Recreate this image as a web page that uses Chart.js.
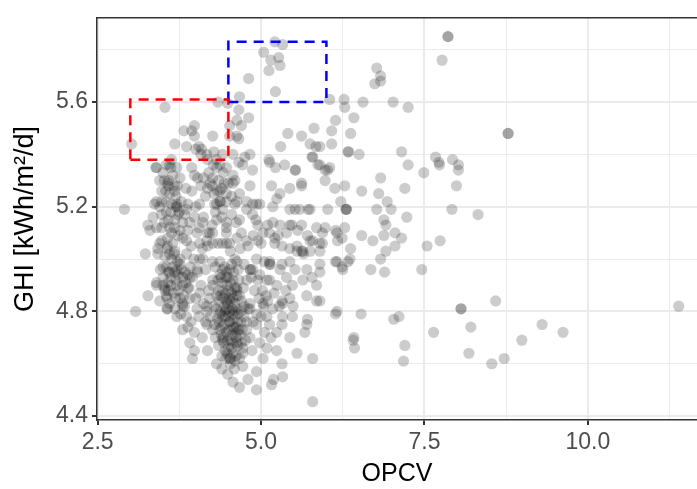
<!DOCTYPE html>
<html><head><meta charset="utf-8">
<script src="https://cdn.jsdelivr.net/npm/chart.js@4/dist/chart.umd.min.js"></script>
<style>html,body{margin:0;padding:0;background:#fff}#wrap{width:697px;height:489px}</style>
</head><body><div id="wrap"><canvas id="c" width="697" height="489"></canvas></div>
<script>
const opcv = [
7.86,7.86,7.77,8.78,8.78,11.39,8.06,8.06,8.59,7.64,8.21,8.18,8.53,8.72,8.99,9.30,9.62,5.79,7.20,7.18,7.03,7.11,6.42,6.41,6.43,6.14,6.53,5.90,5.90,6.14,6.24,6.36,6.68,6.89,6.83,6.91,7.05,6.88,6.71,6.54,6.37,6.17,5.94,6.14,6.28,6.88,6.91,7.05,7.15,7.23,7.46,7.54,7.74,7.92,8.32,6.30,6.30,6.31,6.77,6.99,6.93,6.80,6.54,6.28,6.22,6.83,7.20,7.99,8.02,8.02,7.93,7.72,7.73,7.67,7.49,7.25,7.15,6.50,6.33,6.34,6.08,5.90,6.37,6.08,6.14,6.42,6.05,6.27,6.28,6.56,7.02,7.25,6.77,6.83,6.83,6.74,5.98,6.05,5.98,
5.21,5.33,5.04,5.27,5.15,5.29,5.12,4.81,5.22,4.67,4.34,4.49,
3.53,3.02,4.66,4.81,4.63,4.70,4.52,4.63,4.52,4.66,4.26,3.98,3.94,3.82,3.98,3.68,3.86,4.00,4.05,4.09,4.28,4.08,4.17,4.32,4.57,4.75,4.83,4.66,4.47,4.32,3.39,3.60,3.71,3.94,4.12,3.59,3.76,3.98,4.57,4.87,5.12,5.13,5.30,5.41,5.62,5.81,5.75,5.84,5.79,5.87,5.22,5.53,5.62,3.85,3.94,4.18,3.54,3.68,3.40,3.71,3.88,2.91,4.37,4.37,3.57,3.40,4.03,3.71,3.70,
3.48,3.63,3.48,3.57,3.42,3.60,3.76,3.68,3.88,3.50,3.40,3.57,3.53,3.27,3.57,3.80,3.80,4.02,4.11,4.18,4.34,4.26,4.47,4.52,4.06,4.26,4.41,4.26,4.47,4.63,4.41,4.52,4.83,5.03,5.04,4.87,5.13,5.14,5.13,5.29,5.44,5.55,5.64,5.65,5.32,5.21,5.03,4.95,5.18,5.44,5.56,5.75,5.90,5.94,6.02,5.75,5.59,5.44,5.24,5.29,5.16,5.44,5.62,4.87,4.98,4.78,4.63,4.47,4.32,4.67,4.83,4.57,4.40,4.25,4.26,4.37,4.72,5.36,5.52,5.78,5.90,6.02,6.13,
4.41,4.60,4.78,4.93,5.18,5.52,5.72,4.47,4.67,4.87,5.10,5.29,5.47,5.62,5.85,5.98,6.16,6.24,5.39,5.26,5.13,4.95,4.78,4.63,4.47,5.71,5.79,5.90,5.55,5.44,5.62,5.75,5.21,5.13,5.32,5.52,5.70,5.90,6.16,6.33,6.25,4.93,4.83,4.84,4.98,4.78,5.09,5.24,5.39,5.48,5.64,5.78,5.85,5.70,5.85,5.44,5.32,5.18,5.49,4.83,6.16,4.63,4.52,4.57,4.47,4.63,4.93,5.09,5.33,5.71,
3.56,3.80,4.17,4.47,5.33,5.48,5.70,5.67,5.44,5.24,5.13,5.32,5.55,5.79,3.91,3.98,3.95,4.18,3.80,3.88,4.17,4.26,4.32,4.40,4.52,4.53,4.49,4.57,4.67,4.72,4.80,4.93,4.93,5.16,5.19,5.33,5.32,5.03,5.24,5.09,4.86,4.57,4.41,4.37,4.63,4.83,4.93,4.78,4.52,4.37,3.08,
3.37,3.48,3.27,3.30,3.76,3.86,3.45,3.56,3.68,3.23,3.42,3.86,4.06,4.17,4.21,4.32,3.91,3.46,3.60,3.71,3.80,3.91,4.02,3.40,3.53,3.71,3.88,3.56,3.76,3.91,4.06,4.21,3.83,3.71,4.02,4.17,4.32,4.41,4.26,4.37,4.37,4.11,4.41,4.26,4.47,4.29,4.06,3.86,
4.35,4.42,4.48,4.55,4.60,4.38,4.45,4.52,4.58,4.65,4.70,4.40,4.47,4.55,4.62,4.68,4.43,4.50,4.57,4.64,4.72,4.46,4.53,4.60,4.36,4.33,4.50,4.58,4.66,4.73,4.44,4.62,4.49,4.56,4.41,4.69,4.74,4.78,4.80,4.76,4.54,4.39,4.30,4.28,4.34,4.63,4.52,4.45,4.59,4.67,
3.55,3.62,3.70,3.78,3.85,3.58,3.66,3.74,3.82,3.90,3.95,3.63,3.72,3.50,3.45,3.60,3.68,3.77,3.86,3.93,4.00,4.08,4.12,4.05,3.98,4.10,4.15,4.22,4.20,4.03,
3.50,3.58,3.65,3.55,3.62,3.70,3.48,3.52,3.60,3.68,3.75,3.45,3.57,3.65,3.73,3.80,3.40,3.35,3.63,3.72,3.78,3.83,3.88,3.93,3.53,
4.20,4.28,4.35,4.42,4.50,4.47,4.55,4.60,4.38,4.30,4.15,4.08,4.00,4.12,4.05,3.98,4.18,4.25,4.40,4.55,4.62,4.70,4.53,4.60,4.68,4.74,4.10,3.97,4.15,4.30,4.80,4.88,4.92,5.00,5.05,4.95,4.90,4.97,5.08,4.85,
5.02,5.10,5.20,5.28,5.15,5.05,4.98,5.38,5.00,4.88,
4.38,4.44,4.51,4.57,4.63,4.70,4.36,4.43,4.50,4.57,4.64,4.71,4.42,4.49,4.56,4.63,4.70,4.48,4.55,4.62,4.40,4.46,4.53,4.60,4.67,4.74,4.39,4.47,4.55,4.65,4.32,4.29,4.35,4.58,4.51,4.66,4.72,4.45,4.60,4.53,
3.58,3.65,3.73,3.80,3.62,3.69,3.55,3.84,3.76,3.67,3.50,3.92,
3.52,3.60,3.67,3.55,3.63,3.48,3.58,3.67,3.73,3.62,3.55,3.45,
4.22,4.33,4.44,4.27,4.41,4.18
];
const ghi = [
5.85,5.85,5.76,5.48,5.48,4.82,4.81,4.81,4.84,4.72,4.74,4.64,4.60,4.62,4.69,4.75,4.72,4.455,4.67,4.61,4.77,4.78,4.70,4.69,4.66,4.79,4.79,4.84,4.95,4.99,4.97,5.00,4.96,4.95,5.00,5.03,5.05,5.09,5.07,5.09,5.04,5.07,5.06,5.11,5.12,5.15,5.13,5.10,5.08,5.16,4.96,5.05,5.07,5.19,5.17,5.19,5.19,5.19,5.19,5.19,5.22,5.25,5.26,5.28,5.22,5.31,5.27,5.28,5.34,5.36,5.38,5.37,5.36,5.39,5.33,5.36,5.41,5.40,5.41,5.41,5.44,5.43,5.48,5.49,5.53,5.54,5.61,5.61,5.58,5.60,5.60,5.58,5.73,5.70,5.68,5.67,5.34,5.35,5.30,
5.83,5.82,5.79,5.77,5.76,5.74,5.72,5.69,5.64,5.62,5.60,5.595,
5.58,5.44,5.57,5.54,5.53,5.51,5.51,5.47,5.47,5.46,5.47,5.51,5.49,5.49,5.47,5.44,5.43,5.42,5.43,5.42,5.41,5.40,5.40,5.38,5.40,5.39,5.40,5.37,5.35,5.35,5.35,5.36,5.35,5.35,5.31,5.30,5.31,5.32,5.32,5.34,5.38,5.37,5.43,5.48,5.47,5.50,5.44,5.43,5.39,5.36,5.35,5.34,5.29,5.27,5.26,5.27,5.26,5.26,5.22,5.21,5.21,5.19,5.22,5.26,5.29,5.35,5.31,5.20,5.20,
5.12,5.10,5.07,5.05,5.04,5.02,4.98,4.95,4.94,4.93,4.90,4.91,4.88,4.86,4.81,4.82,5.08,5.10,5.14,5.05,5.06,5.10,5.12,5.06,5.00,4.99,4.96,4.92,4.93,4.89,4.88,4.85,4.83,4.83,4.82,4.96,4.98,4.98,4.92,4.96,4.99,5.03,5.03,5.02,5.05,5.08,5.10,5.13,5.14,5.13,5.11,5.07,5.03,5.10,5.19,5.19,5.19,5.19,5.23,5.25,5.28,5.27,5.28,5.21,5.21,5.22,5.22,5.22,5.21,5.25,5.28,5.29,5.27,5.28,5.31,5.36,5.36,5.36,5.34,5.39,5.36,5.34,5.27,
5.19,5.21,5.19,5.21,5.20,5.19,5.19,5.14,5.15,5.17,5.13,5.13,5.13,5.13,5.12,5.12,5.10,5.08,5.10,5.09,5.10,5.07,5.07,5.08,5.06,5.09,5.07,5.06,5.05,5.04,5.03,5.03,5.06,4.99,4.98,4.96,4.96,4.98,4.99,4.99,4.96,5.00,4.96,4.96,4.94,4.92,4.92,4.90,4.93,4.90,4.92,4.93,4.90,4.86,4.84,4.85,4.84,4.81,4.82,4.81,4.80,4.99,4.96,4.92,4.84,4.81,4.79,4.78,4.78,4.77,
4.81,4.83,4.82,4.81,4.83,4.78,4.75,4.72,4.70,4.72,4.75,4.75,4.64,4.62,4.68,4.65,4.62,4.65,4.73,4.74,4.75,4.73,4.60,4.58,4.62,4.62,4.56,4.53,4.51,4.59,4.54,4.57,4.50,4.52,4.54,4.55,4.60,4.62,4.65,4.66,4.65,4.68,4.69,4.73,4.72,4.70,4.75,4.76,4.76,4.79,4.80,
5.21,5.17,5.13,5.11,5.11,5.07,5.06,5.04,5.03,5.02,5.02,5.02,5.06,5.07,5.10,5.15,5.14,4.96,4.95,4.96,4.93,4.93,4.96,4.91,4.89,4.90,4.89,4.85,4.85,4.85,4.87,4.85,4.82,4.78,4.81,4.80,4.81,4.78,4.90,4.94,4.99,5.00,5.06,5.06,5.10,5.21,5.21,5.19,
4.88,4.85,4.90,4.87,4.83,4.80,4.78,4.80,4.77,4.79,4.84,4.74,4.72,4.73,4.74,4.71,4.68,4.66,4.64,4.67,4.66,4.62,4.60,4.61,4.84,4.77,4.93,4.95,4.92,4.89,4.97,4.70,4.83,4.81,4.91,4.76,4.78,4.73,4.81,4.69,4.69,4.71,4.70,4.82,4.92,4.88,4.76,4.65,4.58,4.62,
4.97,4.93,4.92,4.96,4.91,4.88,4.87,4.88,4.86,4.89,4.93,5.00,4.99,4.90,4.84,4.83,4.81,4.79,4.78,4.76,4.85,4.90,4.83,4.78,4.72,4.70,4.76,4.78,4.88,4.95,
5.33,5.28,5.32,5.22,5.18,5.24,5.26,5.14,5.12,5.15,5.18,5.20,5.08,5.06,5.09,5.14,5.12,5.16,5.38,5.28,5.22,5.17,5.11,5.05,5.01,
5.33,5.25,5.30,5.33,5.29,5.25,5.24,5.30,5.22,5.18,5.24,5.28,5.20,5.16,5.12,5.16,5.10,5.13,5.16,5.17,5.14,5.10,5.03,5.00,5.04,4.98,5.04,5.00,4.96,4.97,5.05,5.09,5.15,5.06,4.99,4.92,4.88,4.85,4.86,4.93,
4.88,4.84,4.87,4.82,4.70,4.72,4.68,4.88,4.78,4.76,
4.86,4.82,4.88,4.85,4.86,4.80,4.76,4.75,4.78,4.79,4.76,4.73,4.70,4.69,4.71,4.68,4.68,4.64,4.66,4.63,4.63,4.87,4.91,4.89,4.86,4.82,4.93,4.95,4.98,4.96,4.86,4.75,4.67,4.74,4.73,4.73,4.64,4.80,4.80,4.84,
4.95,4.97,4.94,4.90,4.90,4.85,4.86,4.95,5.00,5.02,4.97,4.97,
5.30,5.25,5.28,5.18,5.21,5.22,5.15,5.12,5.17,5.35,5.36,5.30,
5.29,5.26,5.29,5.36,5.40,5.38
];
const xTicks = [2.5, 3.75, 5.0, 6.25, 7.5, 8.75, 10.0, 11.25];
const xMajor = [2.5, 5.0, 7.5, 10.0];
const yTicks = [4.4, 4.6, 4.8, 5.0, 5.2, 5.4, 5.6, 5.8];
const yMajor = [4.4, 4.8, 5.2, 5.6];
const redBoxX = [3.0, 4.5, 4.5, 3.0, 3.0];
const redBoxY = [5.38, 5.38, 5.61, 5.61, 5.38];
const blueBoxX = [4.5, 6.0, 6.0, 4.5, 4.5];
const blueBoxY = [5.60, 5.60, 5.83, 5.83, 5.60];

const isIn = (v, arr) => arr.some(a => Math.abs(a - v) < 1e-6);
const pts = opcv.map((x, i) => ({x: x, y: ghi[i]}));
const box = (xs, ys) => xs.map((x, i) => ({x: x, y: ys[i]}));
const FONT = "'Liberation Sans', Arial, sans-serif";

const topBorder = {
  id: 'topBorder',
  afterDatasetsDraw(chart) {
    const {ctx, chartArea} = chart;
    ctx.save();
    ctx.strokeStyle = '#333333';
    ctx.lineWidth = 1.5;
    ctx.beginPath();
    ctx.moveTo(chartArea.left, chartArea.top);
    ctx.lineTo(chartArea.right, chartArea.top);
    ctx.stroke();
    ctx.restore();
  }
};

new Chart(document.getElementById('c'), {
  type: 'scatter',
  data: {
    datasets: [
      {data: pts, backgroundColor: 'rgba(0,0,0,0.2)', borderWidth: 0, pointRadius: 5.6, pointHoverRadius: 5.6, order: 2},
      {type: 'line', data: box(redBoxX, redBoxY), borderColor: '#ff0000', borderWidth: 2.5, borderDash: [10, 7], pointRadius: 0, fill: false, tension: 0, order: 1},
      {type: 'line', data: box(blueBoxX, blueBoxY), borderColor: '#0000ff', borderWidth: 2.5, borderDash: [10, 7], pointRadius: 0, fill: false, tension: 0, order: 1}
    ]
  },
  options: {
    responsive: false,
    animation: false,
    devicePixelRatio: 1,
    layout: {autoPadding: false, padding: {top: 14, right: 0, left: 0, bottom: 0}},
    plugins: {legend: {display: false}, tooltip: {enabled: false}},
    scales: {
      x: {
        type: 'linear', min: 2.49, max: 11.67,
        afterBuildTicks: s => { s.ticks = xTicks.map(v => ({value: v})); },
        afterFit: s => { s.height = 69; },
        ticks: {
          callback: v => isIn(v, xMajor) ? v.toFixed(1) : '',
          font: {family: FONT, size: 23}, color: '#4d4d4d', padding: 4, maxRotation: 0, autoSkip: false
        },
        grid: {
          color: '#ebebeb',
          lineWidth: c => (c.tick && isIn(c.tick.value, xMajor)) ? 2 : 1,
          tickColor: c => (c.tick && isIn(c.tick.value, xMajor)) ? '#333333' : 'rgba(0,0,0,0)',
          tickLength: 5, drawTicks: true
        },
        border: {display: true, color: '#333333', width: 1.5},
        title: {display: true, text: 'OPCV', font: {family: FONT, size: 25}, color: '#000000', padding: {top: 8, bottom: 0}}
      },
      y: {
        type: 'linear', min: 4.385, max: 5.922,
        afterBuildTicks: s => { s.ticks = yTicks.map(v => ({value: v})); },
        afterFit: s => { s.width = 97; },
        ticks: {
          callback: v => isIn(v, yMajor) ? v.toFixed(1) : '',
          font: {family: FONT, size: 23}, color: '#4d4d4d', padding: 4, autoSkip: false
        },
        grid: {
          color: '#ebebeb',
          lineWidth: c => (c.tick && isIn(c.tick.value, yMajor)) ? 2 : 1,
          tickColor: c => (c.tick && isIn(c.tick.value, yMajor)) ? '#333333' : 'rgba(0,0,0,0)',
          tickLength: 5, drawTicks: true
        },
        border: {display: true, color: '#333333', width: 1.5},
        title: {display: true, text: 'GHI [kWh/m²/d]', font: {family: FONT, size: 27}, color: '#000000', padding: {top: 9, bottom: 0}}
      }
    }
  },
  plugins: [topBorder]
});
</script></body></html>
